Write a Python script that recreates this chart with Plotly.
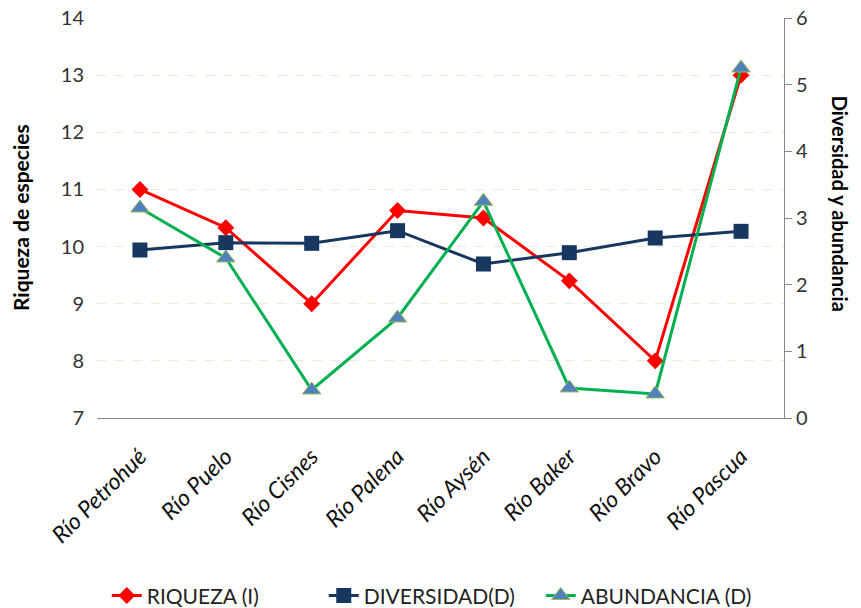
import plotly.graph_objects as go

rios = ["Río Petrohué", "Río Puelo", "Río Cisnes", "Río Palena",
        "Río Aysén", "Río Baker", "Río Bravo", "Río Pascua"]
riqueza = [11.0, 10.33, 9.0, 10.63, 10.5, 9.4, 8.0, 13.0]
diversidad = [2.52, 2.63, 2.62, 2.81, 2.31, 2.48, 2.70, 2.80]
abundancia = [3.15, 2.40, 0.42, 1.50, 3.25, 0.45, 0.36, 5.25]

FONT = "Lato, 'Open Sans', sans-serif"

fig = go.Figure()
fig.add_trace(go.Scatter(
    x=rios, y=riqueza, name="RIQUEZA (I)", mode="lines+markers",
    line=dict(color="#ff0000", width=3),
    marker=dict(symbol="diamond", size=13, color="#ff0000"),
))
fig.add_trace(go.Scatter(
    x=rios, y=diversidad, name="DIVERSIDAD(D)", mode="lines+markers",
    yaxis="y2",
    line=dict(color="#17375e", width=3),
    marker=dict(symbol="square", size=15, color="#17375e"),
))
fig.add_trace(go.Scatter(
    x=rios, y=abundancia, name="ABUNDANCIA (D)", mode="lines+markers",
    yaxis="y2",
    line=dict(color="#00b050", width=3),
    marker=dict(symbol="triangle-up", size=16, color="#4f81bd",
                line=dict(color="#9bbb59", width=1)),
))

fig.update_layout(
    width=861, height=608,
    margin=dict(l=97, r=77, t=18, b=190),
    plot_bgcolor="white", paper_bgcolor="white",
    font=dict(family=FONT, color="#222222"),
    showlegend=True,
    legend=dict(orientation="h", xref="container", yref="container",
                x=0.124, xanchor="left", y=0.02, yanchor="middle",
                font=dict(size=21, color="#222222"),
                entrywidth=172, entrywidthmode="pixels",
                tracegroupgap=0),
    xaxis=dict(
        type="category", range=[-0.5, 7.5], automargin=False,
        tickangle=-45, ticks="", ticklabelstandoff=15,
        tickfont=dict(size=23, style="italic", color="#111111"),
        showline=True, linecolor="#888888", linewidth=1,
        showgrid=False,
    ),
    yaxis=dict(
        range=[7, 14], dtick=1, automargin=False,
        tickfont=dict(size=20, color="#333333"),
        showgrid=True, gridcolor="#ecebd8", griddash="dash", gridwidth=1,
        showline=False, zeroline=False, ticks="", ticklabelstandoff=12,
    ),
    yaxis2=dict(
        range=[0, 6], dtick=1, overlaying="y", side="right", automargin=False,
        tickfont=dict(size=20, color="#333333"),
        showgrid=False, zeroline=False,
        showline=True, linecolor="#888888", linewidth=1,
        ticks="outside", ticklen=7, tickcolor="#888888",
    ),
    annotations=[
        dict(text="<b>Riqueza de especies</b>", xref="paper", yref="paper",
             x=-0.112, y=0.5, xanchor="center", yanchor="middle",
             textangle=-90, showarrow=False,
             font=dict(size=21, color="#000000")),
        dict(text="<b>Diversidad y abundancia</b>", xref="paper", yref="paper",
             x=1.082, y=0.535, xanchor="center", yanchor="middle",
             textangle=90, showarrow=False,
             font=dict(size=20, color="#000000")),
    ],
)

# the page's default body margin would push the chart 8px right and down
fig.write_html("out.html", config={"displayModeBar": False},
               post_script="document.body.style.margin='0px';")
